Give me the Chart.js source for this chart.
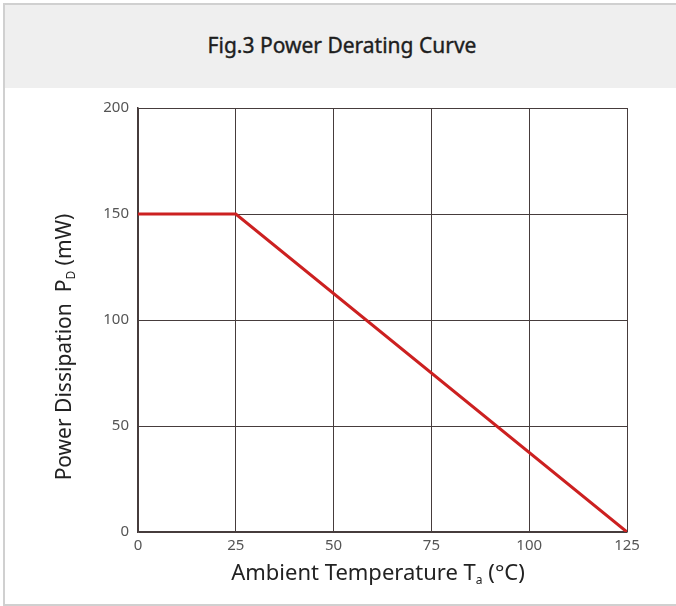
<!DOCTYPE html>
<html lang="en">
<head>
  <meta charset="UTF-8">
  <title>Fig.3 Power Derating Curve</title>
  <script src="https://cdn.jsdelivr.net/npm/chart.js"></script>
  <style>
    body {
      margin: 0;
      background: #fff;
      font-family: 'Noto Sans', sans-serif;
      overflow: hidden;
    }
    .marco {
      position: absolute;
      left: 3px;
      top: 3px;
      width: 700px;
      height: 599px;
      border-top: 2px solid #d0d0d0;
      border-left: 2px solid #d0d0d0;
      border-bottom: 2px solid #d0d0d0;
    }
    .cabecera {
      position: absolute;
      left: 0;
      top: 0;
      width: 100%;
      height: 83px;
      background: #efefef;
      text-align: center;
      line-height: 83px;
      font-size: 21px;
      font-weight: normal;
      color: #1e1e1e;
      -webkit-text-stroke: 0.4px #1e1e1e;
    }
    .cabecera span { position: relative; left: -13px; top: -1px; }
    .grafica {
      position: absolute;
      left: 0;
      top: 88px;
      width: 676px;
      height: 515px;
    }
  </style>
</head>
<body>

<div class="marco">
  <div class="cabecera"><span>Fig.3 Power Derating Curve</span></div>
</div>
<div class="grafica"><canvas id="curva"></canvas></div>

<script>
  // datos
  const temperaturas = [0, 25, 125];
  const potencia = [150, 150, 0];
  const ticksX = [0, 25, 50, 75, 100, 125];
  const ticksY = [0, 50, 100, 150, 200];

  const rojo = "#cc2020";
  const rejilla = "#463c3c";

  // títulos de los ejes con subíndice
  function escribir(ctx, partes, x, y, talla) {
    const fuente = p => p.sub ? "12px 'Noto Sans'" : talla + "px 'Noto Sans'";
    const ancho = partes.reduce((s, p) => {
      ctx.font = fuente(p);
      return s + ctx.measureText(p.t).width;
    }, 0);
    let pos = x - ancho / 2;
    partes.forEach(p => {
      ctx.font = fuente(p);
      ctx.fillText(p.t, pos, p.sub ? y + 7 : y);
      pos += ctx.measureText(p.t).width;
    });
  }

  const titulosEjes = {
    id: "titulosEjes",
    afterDraw(chart) {
      const ctx = chart.ctx;
      ctx.save();
      ctx.fillStyle = "#222";
      ctx.textBaseline = "middle";
      ctx.textAlign = "left";
      escribir(ctx, [{ t: "Ambient Temperature T" }, { t: "a", sub: true }, { t: " (°C)" }], 378, 486, 22);
      ctx.translate(65, 259);
      ctx.rotate(-Math.PI / 2);
      escribir(ctx, [{ t: "Power Dissipation  P" }, { t: "D", sub: true }, { t: " (mW)" }], 0, 0, 21);
      ctx.restore();
    }
  };

  new Chart(document.getElementById("curva"), {
    type: "scatter",
    data: {
      datasets: [{
        data: temperaturas.map((t, i) => ({ x: t, y: potencia[i] })),
        showLine: true,
        borderColor: rojo,
        borderWidth: 3,
        pointRadius: 0,
        tension: 0
      }]
    },
    options: {
      responsive: true,
      maintainAspectRatio: false,
      animation: false,
      layout: { padding: { left: 0, right: 49, top: 20, bottom: 0 } },
      plugins: {
        legend: { display: false },
        tooltip: { enabled: false }
      },
      scales: {
        x: {
          type: "linear",
          min: 0,
          max: 125,
          afterBuildTicks: s => { s.ticks = ticksX.map(v => ({ value: v })); },
          afterFit: s => { s.height = 71; },
          grid: { color: rejilla, lineWidth: 1, drawTicks: false },
          border: { color: rejilla, width: 1.5 },
          ticks: { color: "#555", padding: 5, font: { family: "'Noto Sans'", size: 15 }, maxRotation: 0 }
        },
        y: {
          type: "linear",
          min: 0,
          max: 200,
          afterBuildTicks: s => { s.ticks = ticksY.map(v => ({ value: v })); },
          afterFit: s => { s.width = 138; },
          grid: { color: rejilla, lineWidth: 1, drawTicks: false },
          border: { color: rejilla, width: 1.5 },
          ticks: { color: "#555", padding: 9, font: { family: "'Noto Sans'", size: 15 } }
        }
      }
    },
    plugins: [titulosEjes]
  });
</script>
</body>
</html>
